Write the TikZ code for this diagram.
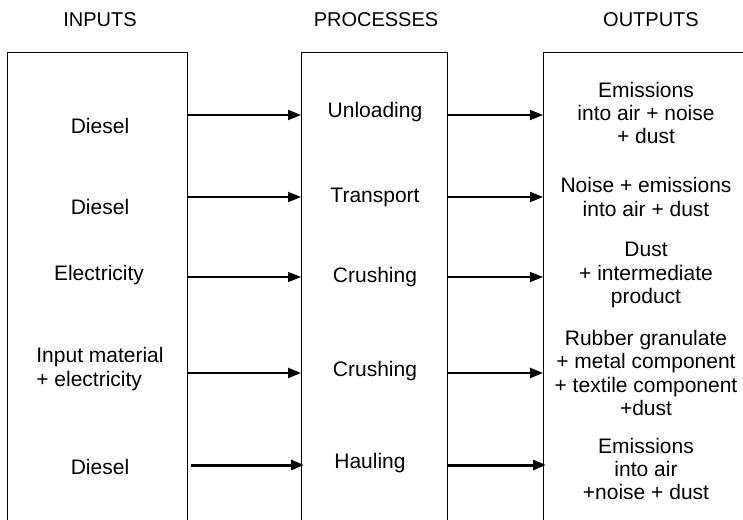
\documentclass[tikz,border=0pt]{standalone}
\usepackage{fontspec}
\setmainfont{Liberation Sans}
\usetikzlibrary{arrows.meta}
\begin{document}
\begin{tikzpicture}[x=1pt,y=-1pt,
  every node/.style={font=\fontsize{21}{23.3}\selectfont, inner sep=0pt},
  head/.style={font=\fontsize{20}{23}\selectfont},
  colbox/.style={draw, line width=1pt, minimum height=490pt, anchor=north west},
  lbl/.style={align=center},
  arr/.style={-{Triangle[length=13pt,width=10pt]}, line width=2pt}]
\useasboundingbox (0,0) rectangle (743,519);
% headings
\node[head] (hin)  at (100,20) {INPUTS};
\node[head] (hpro) at (376,20) {PROCESSES};
\node[head] (hout) at (651,20) {OUTPUTS};
% column boxes (open at the bottom / right: they run past the page)
\node[colbox, minimum width=180pt] (inbox)  at (7,52) {};
\node[colbox, minimum width=146pt] (probox) at (301,52) {};
\node[colbox, minimum width=230pt] (outbox) at (543,52) {};
% row levels
\coordinate (r1) at (0,115);
\coordinate (r2) at (0,197);
\coordinate (r3) at (0,277);
\coordinate (r4) at (0,373);
\coordinate (r5) at (0,465);
% inputs
\node[lbl] (i1) at (100,126) {Diesel};
\node[lbl] (i2) at (100,207) {Diesel};
\node[lbl] (i3) at (99,275) {Electricity};
\node[align=left] (i4) at (100,369) {Input material\\+ electricity};
\node[lbl] (i5) at (100,467) {Diesel};
% processes
\node[lbl] (p1) at (375,112) {Unloading};
\node[lbl] (p2) at (375,197) {Transport};
\node[lbl] (p3) at (375,277) {Crushing};
\node[lbl] (p4) at (375,371) {Crushing};
\node[lbl] (p5) at (370,463) {Hauling};
% outputs
\node[lbl] (o1) at (646,113) {Emissions\\into air + noise\\+ dust};
\node[lbl] (o2) at (646,197) {Noise + emissions\\into air + dust};
\node[lbl] (o3) at (646,275) {Dust\\+ intermediate\\product};
\node[lbl] (o4) at (646,373) {Rubber granulate\\+ metal component\\+ textile component\\+dust};
\node[lbl] (o5) at (646,469) {Emissions\\into air\\+noise + dust};
% connectors
\draw[arr, line width=1.8pt] (inbox.east |- r1) -- (probox.west |- r1);
\draw[arr, line width=1.8pt] (probox.east |- r1) -- (outbox.west |- r1);
\draw[arr, line width=2pt] (inbox.east |- r2) -- (probox.west |- r2);
\draw[arr, line width=2pt] (probox.east |- r2) -- (outbox.west |- r2);
\draw[arr, line width=1.4pt] (inbox.east |- r3) -- (probox.west |- r3);
\draw[arr, line width=1.4pt] (probox.east |- r3) -- (outbox.west |- r3);
\draw[arr, line width=2.4pt] (inbox.east |- r4) -- (probox.west |- r4);
\draw[arr, line width=2.4pt] (probox.east |- r4) -- (outbox.west |- r4);
\draw[arr, line width=3pt] ([xshift=3pt]inbox.east |- r5) -- ([xshift=3pt]probox.west |- r5);
\draw[arr, line width=3pt] (probox.east |- r5) -- ([xshift=3pt]outbox.west |- r5);
\end{tikzpicture}
\end{document}
